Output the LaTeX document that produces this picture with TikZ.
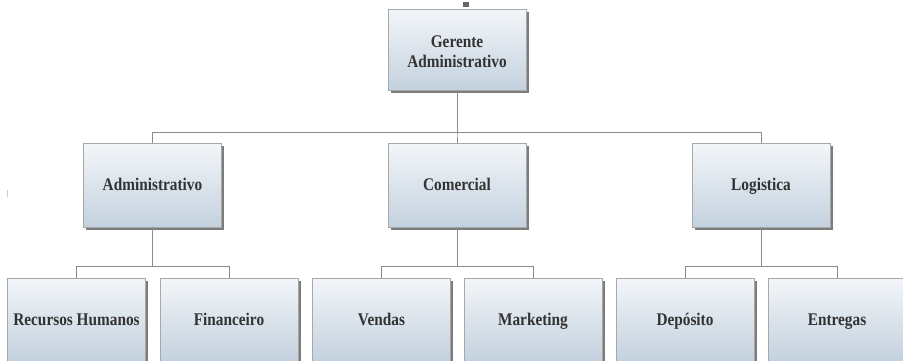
\documentclass[tikz,border=0pt]{standalone}
\usepackage{fontspec}
\newfontfamily\boxfont[FakeStretch=0.86]{Liberation Serif}
\usetikzlibrary{shadows}
\definecolor{boxtop}{HTML}{F3F6F9}
\definecolor{boxmid}{HTML}{E0E8EF}
\definecolor{boxbot}{HTML}{C3D1DE}
\definecolor{boxline}{HTML}{A8A8A8}
\definecolor{wire}{HTML}{8A8A8A}
\definecolor{label}{HTML}{333333}
\tikzset{
  unit/.style={
    rectangle, draw=boxline, line width=0.7pt,
    top color=boxtop, middle color=boxmid, bottom color=boxbot,
    minimum width=138pt, minimum height=84pt, inner sep=2pt,
    text height=13pt, text depth=3pt,
    align=center, text=label,
    font=\boxfont\bfseries\fontsize{17.8}{20}\selectfont,
    drop shadow={shadow xshift=2.5pt, shadow yshift=-2.5pt, fill=black!60, opacity=0.85}
  },
  wire/.style={draw=wire, line width=0.9pt},
  handlebox/.style={fill=black!60},
}
\begin{document}
\begin{tikzpicture}[x=1pt,y=-1pt]
  \useasboundingbox (0,0) rectangle (903,360);
  \clip (0,0) rectangle (903,360);
  \fill[white] (0,0) rectangle (903,360);

  % selection handle above the top box
  \fill[handlebox] (463,2) rectangle (469,7);
  % faint cursor tick on the left edge
  \draw[black!20, line width=0.8pt] (7,190) -- (7,197);

  % head (two lines: the text box height covers both lines)
  \node[unit, minimum height=81pt, text height=38pt] (ger) at (457,49.5) {Gerente\\Administrativo};

  % departments
  \node[unit] (adm) at (152.5,185) {Administrativo};
  \node[unit] (com) at (457,185) {Comercial};
  \node[unit] (log) at (761,185) {Logistica};

  % sections
  \node[unit] (rh)  at (76.5,320) {Recursos Humanos};
  \node[unit] (fin) at (229,320) {Financeiro};
  \node[unit] (ven) at (381.5,320) {Vendas};
  \node[unit] (mkt) at (533,320) {Marketing};
  \node[unit] (dep) at (685,320) {Depósito};
  \node[unit] (ent) at (837,320) {Entregas};

  % connectors: down from the parent to a bus, across, down to the child
  \foreach \c in {adm,com,log}
    \draw[wire] (ger.south) -- ++(0,42) -| (\c.north);
  \foreach \c in {rh,fin}
    \draw[wire] (adm.south) -- ++(0,39.5) -| (\c.north);
  \foreach \c in {ven,mkt}
    \draw[wire] (com.south) -- ++(0,39.5) -| (\c.north);
  \foreach \c in {dep,ent}
    \draw[wire] (log.south) -- ++(0,39.5) -| (\c.north);
\end{tikzpicture}
\end{document}
